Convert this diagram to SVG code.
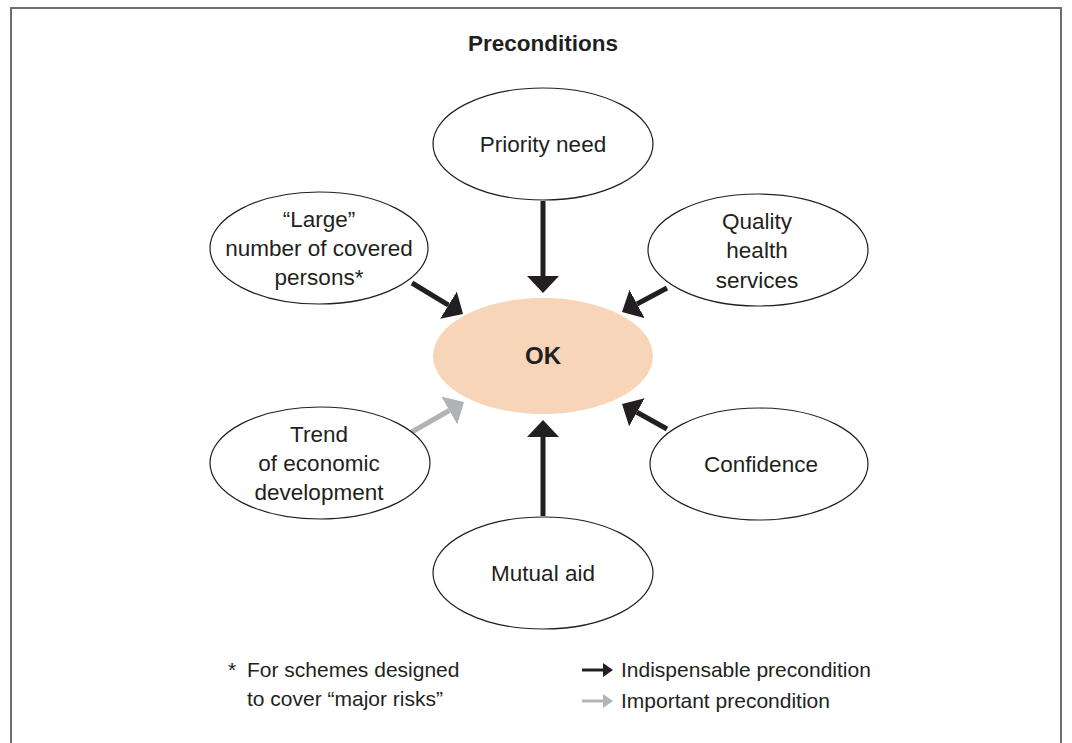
<svg xmlns="http://www.w3.org/2000/svg" width="1072" height="743" viewBox="0 0 1072 743">
  <style>
    .frame { fill: none; stroke: #6d6e71; stroke-width: 2; }
    .node { fill: #ffffff; stroke: #231f20; stroke-width: 1.2; }
    .core { fill: #f8d5b8; stroke: none; }
    .label { font-family: "Liberation Sans", Arial, sans-serif; font-size: 22.5px; fill: #231f20; text-anchor: middle; }
    .note { font-family: "Liberation Sans", Arial, sans-serif; font-size: 21px; fill: #231f20; }
    .title { font-family: "Liberation Sans", Arial, sans-serif; font-size: 22.5px; font-weight: bold; fill: #231f20; text-anchor: middle; }
    .ok { font-family: "Liberation Sans", Arial, sans-serif; font-size: 24px; font-weight: bold; fill: #231f20; text-anchor: middle; }
    .dark { stroke: #231f20; stroke-width: 5; fill: none; }
    .light { stroke: #b1b3b6; stroke-width: 5; fill: none; }
    .dark-s { stroke: #231f20; stroke-width: 3; fill: none; }
    .light-s { stroke: #b1b3b6; stroke-width: 3; fill: none; }
  </style>
  <defs>
    <marker id="headDark" viewBox="0 0 17 32" refX="0" refY="16" markerWidth="17" markerHeight="32" markerUnits="userSpaceOnUse" orient="auto">
      <path d="M0,0 L17,16 L0,32 Z" fill="#231f20"/>
    </marker>
    <marker id="headLight" viewBox="0 0 17 32" refX="0" refY="16" markerWidth="17" markerHeight="32" markerUnits="userSpaceOnUse" orient="auto">
      <path d="M0,0 L17,16 L0,32 Z" fill="#b1b3b6"/>
    </marker>
    <marker id="smallDark" viewBox="0 0 10 14" refX="0" refY="7" markerWidth="10" markerHeight="14" markerUnits="userSpaceOnUse" orient="auto">
      <path d="M0,0 L10,7 L0,14 Z" fill="#231f20"/>
    </marker>
    <marker id="smallLight" viewBox="0 0 10 14" refX="0" refY="7" markerWidth="10" markerHeight="14" markerUnits="userSpaceOnUse" orient="auto">
      <path d="M0,0 L10,7 L0,14 Z" fill="#b1b3b6"/>
    </marker>
  </defs>

  <rect width="1072" height="743" fill="#ffffff"/>
  <!-- open frame: top and sides only -->
  <path class="frame" d="M11,744 L11,8 L1061,8 L1061,744"/>

  <text class="title" x="543" y="51">Preconditions</text>

  <g id="connectors">
    <line class="dark" x1="543" y1="201" x2="543" y2="276" marker-end="url(#headDark)"/>
    <line class="dark" x1="543" y1="516" x2="543" y2="437" marker-end="url(#headDark)"/>
    <line class="dark" x1="412" y1="283" x2="448.5" y2="305.2" marker-end="url(#headDark)"/>
    <line class="dark" x1="667" y1="288" x2="637" y2="304" marker-end="url(#headDark)"/>
    <line class="light" x1="410" y1="433" x2="449.3" y2="410.5" marker-end="url(#headLight)"/>
    <line class="dark" x1="667" y1="429" x2="636.9" y2="412.3" marker-end="url(#headDark)"/>
  </g>

  <g id="node-ok">
    <ellipse class="core" cx="543" cy="356" rx="110" ry="58"/>
    <text class="ok" x="543" y="364">OK</text>
  </g>

  <g id="node-priority">
    <ellipse class="node" cx="543" cy="144" rx="110" ry="56"/>
    <text class="label" x="543" y="152">Priority need</text>
  </g>

  <g id="node-large">
    <ellipse class="node" cx="319" cy="248" rx="109" ry="56"/>
    <text class="label" x="319" y="227">“Large”</text>
    <text class="label" x="319" y="256">number of covered</text>
    <text class="label" x="319" y="285">persons*</text>
  </g>

  <g id="node-quality">
    <ellipse class="node" cx="758" cy="250" rx="110" ry="56"/>
    <text class="label" x="757" y="229">Quality</text>
    <text class="label" x="757" y="258">health</text>
    <text class="label" x="757" y="288">services</text>
  </g>

  <g id="node-trend">
    <ellipse class="node" cx="320" cy="463" rx="110" ry="56"/>
    <text class="label" x="319" y="442">Trend</text>
    <text class="label" x="319" y="471">of economic</text>
    <text class="label" x="319" y="500">development</text>
  </g>

  <g id="node-confidence">
    <ellipse class="node" cx="759" cy="464" rx="109" ry="56"/>
    <text class="label" x="761" y="472">Confidence</text>
  </g>

  <g id="node-mutual">
    <ellipse class="node" cx="543" cy="573" rx="110" ry="56"/>
    <text class="label" x="543" y="581">Mutual aid</text>
  </g>

  <g id="footnote">
    <text class="note" x="228" y="677">*</text>
    <text class="note" x="247" y="677">For schemes designed</text>
    <text class="note" x="247" y="706">to cover “major risks”</text>
  </g>

  <g id="legend">
    <line class="dark-s" x1="582" y1="670" x2="603" y2="670" marker-end="url(#smallDark)"/>
    <text class="note" x="621" y="677">Indispensable precondition</text>
    <line class="light-s" x1="582" y1="701" x2="603" y2="701" marker-end="url(#smallLight)"/>
    <text class="note" x="621" y="708">Important precondition</text>
  </g>
</svg>
